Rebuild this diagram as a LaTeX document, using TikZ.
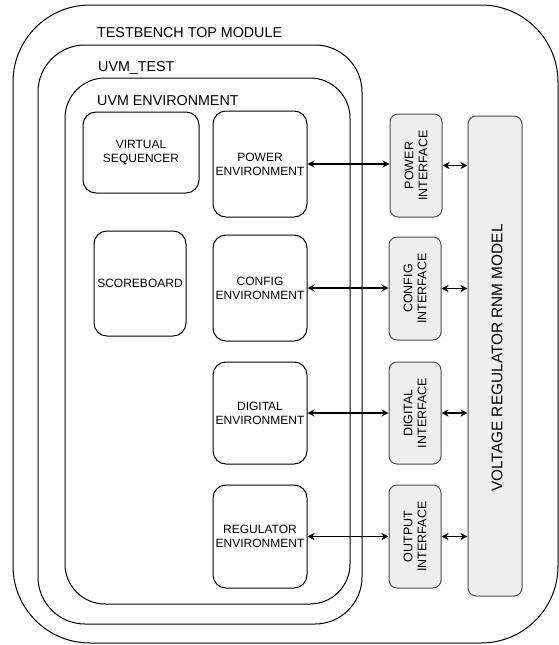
\documentclass[tikz,border=0pt]{standalone}
\usepackage{fontspec}
\setmainfont{Liberation Sans}
\usetikzlibrary{arrows.meta}
\definecolor{ifacefill}{HTML}{EEEEEE}
\definecolor{ifaceline}{HTML}{4D4D4D}
\tikzset{
  frame/.style={draw=black, line width=1pt, inner sep=0pt},
  blockbox/.style={draw=black, line width=1pt, rounded corners=13pt, align=center,
    font=\fontsize{12}{14}\selectfont, inner sep=1pt},
  ifacebox/.style={draw=ifaceline, fill=ifacefill, line width=1pt, rounded corners=8pt,
    minimum width=52pt, inner sep=0pt},
  ifacetext/.style={rotate=90, align=center, font=\fontsize{12.5}{14}\selectfont},
  title/.style={anchor=west, inner sep=0pt, font=\fontsize{14.3}{16}\selectfont},
  tip/.style={Stealth[length=7pt,width=7pt,inset=2pt]},
  link/.style={line width=1.3pt, {Stealth[length=7pt,width=7pt,inset=2pt]}-{Stealth[length=7pt,width=7pt,inset=2pt]}}
}
\begin{document}
\begin{tikzpicture}[x=1pt, y=-1pt]
\useasboundingbox (0,0) rectangle (559,645);

% nested containers
\draw[frame, rounded corners=77pt] (13,5) rectangle (558,643);
\draw[frame, rounded corners=47pt] (38,45) rectangle (362,624);
\draw[frame, rounded corners=40pt] (65,78) rectangle (350,604);

\node[title] (tbtop) at (97,33) {TESTBENCH TOP MODULE};
\node[title] (uvmtest) at (98,68) {UVM\_TEST};
\node[title] (uvmenv) at (97,101) {UVM ENVIRONMENT};

% environment blocks
\node[blockbox, minimum width=116pt, minimum height=81pt] (vseq) at (141,152.5) {VIRTUAL\\SEQUENCER};
\node[blockbox, minimum width=92pt, minimum height=105pt] (sb) at (140,283.5) {SCOREBOARD};
\node[blockbox, minimum width=94pt, minimum height=106pt] (pwr) at (260,164) {POWER\\ENVIRONMENT};
\node[blockbox, minimum width=94pt, minimum height=106pt] (cfg) at (260,288) {CONFIG\\ENVIRONMENT};
\node[blockbox, minimum width=94pt, minimum height=102pt] (dig) at (260,413) {DIGITAL\\ENVIRONMENT};
\node[blockbox, minimum width=94pt, minimum height=103pt] (reg) at (260,536.5) {REGULATOR\\ENVIRONMENT};

% interfaces
\node[ifacebox, minimum height=103pt] (pwri) at (416,165.5) {};
\node[ifacetext] at (pwri) {POWER\\INTERFACE};
\node[ifacebox, minimum height=103pt] (cfgi) at (415,288.5) {};
\node[ifacetext] at (cfgi) {CONFIG\\INTERFACE};
\node[ifacebox, minimum height=102pt] (digi) at (415,413) {};
\node[ifacetext] at (digi) {DIGITAL\\INTERFACE};
\node[ifacebox, minimum height=103pt] (outi) at (415,536.5) {};
\node[ifacetext] at (outi) {OUTPUT\\INTERFACE};

% regulator model
\node[draw=ifaceline, fill=ifacefill, line width=1pt, rounded corners=8pt,
  minimum width=54pt, minimum height=480pt, inner sep=0pt] (model) at (495,356) {};
\node[rotate=90, font=\fontsize{15.4}{17}\selectfont] at (497,358) {VOLTAGE REGULATOR RNM MODEL};

% connections
\draw[link] (pwr.east) -- (pwr.east -| pwri.west);
\draw[link] (cfg.east) -- (cfg.east -| cfgi.west);
\draw[link] (dig.east) -- (dig.east -| digi.west);
\draw[link] (reg.east) -- (reg.east -| outi.west);
\draw[link] (pwri.east) -- (pwri.east -| model.west);
\draw[link] (cfgi.east) -- (cfgi.east -| model.west);
\draw[link] (digi.east) -- (digi.east -| model.west);
\draw[link] (outi.east) -- (outi.east -| model.west);
\end{tikzpicture}
\end{document}
